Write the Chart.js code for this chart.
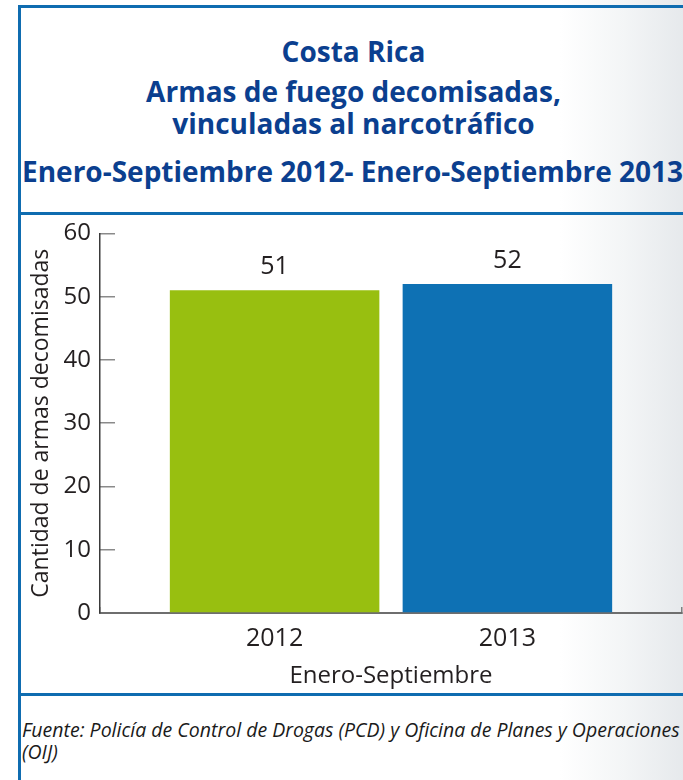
<!DOCTYPE html>
<html>
<head>
<meta charset="utf-8">
<script src="https://cdn.jsdelivr.net/npm/chart.js@4.4.0/dist/chart.umd.min.js"></script>
<style>
  html, body { margin: 0; padding: 0; }
  body {
    width: 683px; height: 780px; position: relative; overflow: hidden;
    background: linear-gradient(to right, #ffffff 0px, #ffffff 560px, #f3f5f6 625px, #e6e9ec 683px);
    font-family: "Open Sans", sans-serif;
  }
  .rule { position: absolute; background: #0f6cb0; }
  .head {
    position: absolute; left: 21px; width: 665px; text-align: center;
    color: #0b3f8f; font-family: "Open Sans", sans-serif; font-weight: bold;
    font-size: 28px; line-height: 1.2; white-space: nowrap;
  }
  #box { position: absolute; left: 21px; top: 195px; width: 662px; height: 497px; }
  .note {
    position: absolute; left: 22px; font-style: italic; font-size: 19.5px;
    color: #1a1a1a; white-space: nowrap; line-height: 22px;
  }
</style>
</head>
<body>
<div class="rule" style="left:18px;top:5px;width:3px;height:775px"></div>
<div class="rule" style="left:18px;top:5px;width:665px;height:3px"></div>
<div class="rule" style="left:18px;top:212px;width:665px;height:3px"></div>
<div class="rule" style="left:18px;top:693px;width:665px;height:3px"></div>

<div class="head" style="top:35px">Costa Rica</div>
<div class="head" style="top:75px">Armas de fuego decomisadas,</div>
<div class="head" style="top:107px">vinculadas al narcotráfico</div>
<div class="head" style="top:155px;left:22px;text-align:left">Enero-Septiembre 2012- Enero-Septiembre 2013</div>

<div id="box"><canvas id="resultsChart"></canvas></div>

<div class="note" style="top:719px">Fuente: Policía de Control de Drogas (PCD) y Oficina de Planes y Operaciones</div>
<div class="note" style="top:741px">(OIJ)</div>

<script>
'use strict';
var categories = ['Enero-Septiembre'];
var years = ['2012', '2013'];
var values = [51, 52];
var barColors = ['#98bf10', '#0e71b4'];
var yTicks = { min: 0, max: 60, step: 10 };
var yTitle = 'Cantidad de armas decomisadas';

var ctx = document.getElementById('resultsChart').getContext('2d');

// one dataset per year so the bars sit side by side in the single category
var datasets = [];
for (var i = 0; i < years.length; i++) {
  datasets.push({
    label: years[i],
    data: [values[i]],
    backgroundColor: barColors[i],
    borderWidth: 0
  });
}

// writes the value above each bar and the year under it
var barLabels = {
  id: 'barLabels',
  afterDatasetsDraw: function (chart) {
    var c = chart.ctx;
    var area = chart.chartArea;
    c.save();
    c.fillStyle = '#231f20';
    c.font = '25px "Open Sans"';
    c.textAlign = 'center';
    c.textBaseline = 'middle';
    chart.data.datasets.forEach(function (ds, i) {
      var bar = chart.getDatasetMeta(i).data[0];
      c.fillText(String(ds.data[0]), bar.x, bar.y - 23);
      c.fillText(ds.label, bar.x, area.bottom + 26);
    });
    c.restore();
  }
};

var chart = new Chart(ctx, {
  type: 'bar',
  data: {
    labels: categories,
    datasets: datasets
  },
  plugins: [barLabels],
  options: {
    responsive: true,
    maintainAspectRatio: false,
    animation: false,
    layout: { padding: { top: 0, right: 1, bottom: 0, left: 0 } },
    plugins: {
      legend: { display: false },
      tooltip: { enabled: false }
    },
    scales: {
      x: {
        ticks: { display: false },
        grid: { drawOnChartArea: false, tickLength: -6, color: '#808080', lineWidth: 1.5 },
        border: { color: '#6e6e6e', width: 2 },
        title: {
          display: true,
          text: categories[0],
          color: '#231f20',
          font: { family: 'Open Sans', size: 24 },
          padding: { top: 0, bottom: 1 }
        },
        afterFit: function (scale) { scale.height = 79; }
      },
      y: {
        min: yTicks.min,
        max: yTicks.max,
        ticks: {
          stepSize: yTicks.step,
          padding: 24,
          color: '#231f20',
          font: { family: 'Open Sans', size: 24 }
        },
        grid: { drawOnChartArea: false, tickLength: -15, color: '#8a8a8a', lineWidth: 1.5 },
        border: { color: '#3a3a3a', width: 1.5 },
        title: {
          display: true,
          text: yTitle,
          color: '#231f20',
          font: { family: 'Open Sans', size: 23 },
          padding: { top: 7, bottom: 0 }
        },
        afterFit: function (scale) { scale.width = 79; }
      }
    }
  }
});
</script>
</body>
</html>
